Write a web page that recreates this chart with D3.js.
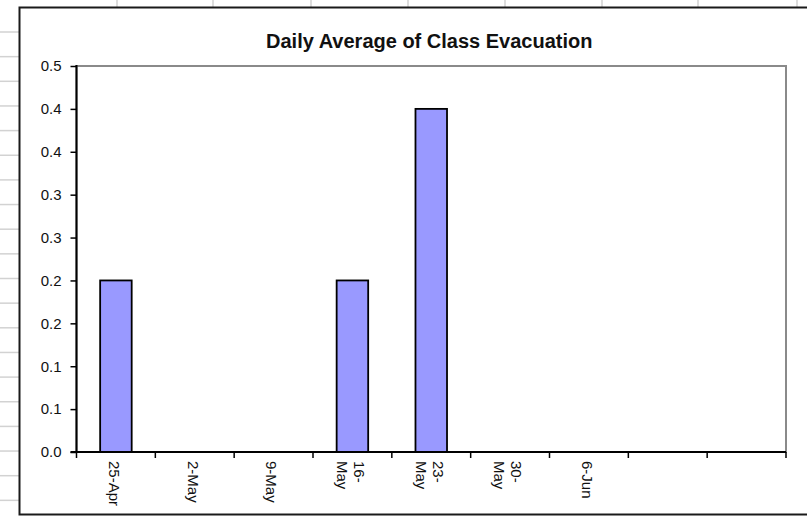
<!DOCTYPE html>
<html>
<head>
<meta charset="utf-8">
<script src="https://cdn.jsdelivr.net/npm/d3@7"></script>
<style>
  html, body { margin: 0; padding: 0; background: #fff; }
  svg { display: block; }
  text { font-family: Arial, "Liberation Sans", sans-serif; fill: #111; }
</style>
</head>
<body>
<svg id="chart" width="807" height="517"></svg>
<script>
// Weekly dates (category slots; the last two are unlabeled)
const categories = ["25-Apr", "2-May", "9-May", "16-May", "23-May", "30-May", "6-Jun", "", ""];
// How each date label is broken into lines
const categoryLines = [["25-Apr"], ["2-May"], ["9-May"], ["16-", "May"], ["23-", "May"], ["30-", "May"], ["6-Jun"], [], []];
// Daily average of class evacuation per week
const evacuationAvg = [0.2, 0, 0, 0.2, 0.4, 0, 0, null, null];
// Value axis ticks and their one-decimal labels
const yTickValues = [0, 0.05, 0.1, 0.15, 0.2, 0.25, 0.3, 0.35, 0.4, 0.45];
const yTickLabels = ["0.0", "0.1", "0.1", "0.2", "0.2", "0.3", "0.3", "0.4", "0.4", "0.5"];
const chartTitle = "Daily Average of Class Evacuation";

const W = 807, H = 517;
const svg = d3.select("#chart");

// Worksheet cell grid behind the chart object
const sheetCols = [117, 213, 311, 408, 505, 602, 698, 797];
const sheetRows = d3.range(32, H, 24.65);
svg.append("rect").attr("width", W).attr("height", H).attr("fill", "#fff");
svg.append("g").selectAll("line").data(sheetCols).join("line")
  .attr("x1", d => d).attr("x2", d => d).attr("y1", 0).attr("y2", 8)
  .attr("stroke", "#d2d2d2").attr("stroke-width", 1.5);
svg.append("g").selectAll("line").data(sheetRows).join("line")
  .attr("x1", 0).attr("x2", 19).attr("y1", d => d).attr("y2", d => d)
  .attr("stroke", "#d2d2d2").attr("stroke-width", 1.5);

// Chart object frame
svg.append("rect").attr("x", 19.5).attr("y", 7.5).attr("width", 800).attr("height", 507)
  .attr("fill", "#fff").attr("stroke", "#1a1a1a").attr("stroke-width", 2);

// Plot area
const plot = { left: 76.5, right: 786, top: 66, bottom: 452 };

const x = d3.scaleBand()
  .domain(d3.range(categories.length))
  .range([plot.left, plot.right])
  .padding(0);
const y = d3.scaleLinear()
  .domain([0, 0.45])
  .range([plot.bottom, plot.top]);

// Plot area border (top and right in gray)
svg.append("rect")
  .attr("x", plot.left).attr("y", plot.top)
  .attr("width", plot.right - plot.left).attr("height", plot.bottom - plot.top)
  .attr("fill", "#fff").attr("stroke", "#8a8a8a").attr("stroke-width", 2);

// Title
svg.append("text")
  .attr("x", (plot.left + plot.right) / 2 - 2)
  .attr("y", 48)
  .attr("text-anchor", "middle")
  .style("font-size", "20px")
  .style("font-weight", "bold")
  .text(chartTitle);

// Bars: gap width 150% of bar width
const barFrac = 0.4;
svg.append("g").selectAll("rect")
  .data(evacuationAvg.map((v, i) => ({ v, i })).filter(d => d.v != null && d.v > 0))
  .join("rect")
  .attr("x", d => x(d.i) + x.bandwidth() * (1 - barFrac) / 2)
  .attr("width", x.bandwidth() * barFrac)
  .attr("y", d => y(d.v))
  .attr("height", d => y(0) - y(d.v))
  .attr("fill", "#9999ff")
  .attr("stroke", "#000")
  .attr("stroke-width", 1.8);

// Value axis
const yAxis = d3.axisLeft(y)
  .tickValues(yTickValues)
  .tickFormat((d, i) => yTickLabels[i])
  .tickSize(6)
  .tickPadding(9);
const gy = svg.append("g").attr("transform", `translate(${plot.left},0)`).call(yAxis);
gy.select(".domain").remove();
gy.selectAll(".tick line").attr("stroke", "#000").attr("stroke-width", 1.5);
gy.selectAll(".tick text").style("font-size", "15px").style("font-family", "Arial, 'Liberation Sans', sans-serif").attr("fill", "#111");
svg.append("line").attr("x1", plot.left).attr("x2", plot.left)
  .attr("y1", plot.top - 1).attr("y2", plot.bottom + 1)
  .attr("stroke", "#000").attr("stroke-width", 2);

// Category axis: tick marks sit between categories
const boundaries = d3.range(categories.length + 1).map(i =>
  i < categories.length ? x(i) : x(categories.length - 1) + x.bandwidth());
svg.append("g").selectAll("line").data(boundaries).join("line")
  .attr("x1", d => d).attr("x2", d => d)
  .attr("y1", plot.bottom).attr("y2", plot.bottom + 6)
  .attr("stroke", "#000").attr("stroke-width", 1.5);
svg.append("line").attr("x1", plot.left - 6).attr("x2", plot.right)
  .attr("y1", plot.bottom).attr("y2", plot.bottom)
  .attr("stroke", "#000").attr("stroke-width", 2);

// Rotated date labels, reading top to bottom
const lineGap = 17;
const labels = svg.append("g").selectAll("text")
  .data(categoryLines.map((lines, i) => ({ lines, i })))
  .join("text")
  .attr("transform", d => {
    const cx = x(d.i) + x.bandwidth() / 2 - 2 + (d.lines.length - 1) * lineGap / 2;
    return `translate(${cx},${plot.bottom + 9}) rotate(90)`;
  })
  .attr("text-anchor", "start")
  .style("font-size", "15px");
labels.selectAll("tspan")
  .data(d => d.lines.map((t, k) => ({ t, k })))
  .join("tspan")
  .attr("x", 0)
  .attr("dy", d => d.k === 0 ? "0.35em" : lineGap)
  .text(d => d.t);
</script>
</body>
</html>
